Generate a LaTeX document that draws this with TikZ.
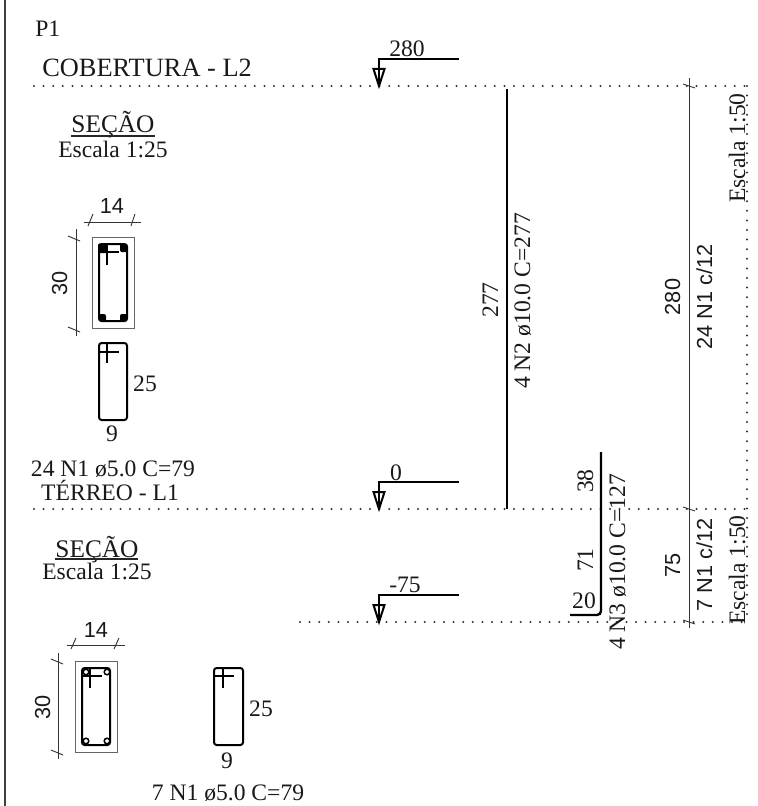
\documentclass[tikz,border=0pt]{standalone}
\usepackage{fontspec}
\setmainfont{Liberation Serif}
\setsansfont{Liberation Sans}
\tikzset{
  serif/.style={inner sep=0,anchor=base,font=\fontsize{17.7pt}{17.7pt}\selectfont,text=black!90},
  sans/.style={inner sep=0,anchor=base,font=\sffamily\fontsize{16.3pt}{16.3pt}\selectfont,text=black!90},
  up/.style={rotate=90},
  dotline/.style={line width=1.7pt,line cap=round,dash pattern=on 0pt off 7.2pt,black!80},
  dimline/.style={line width=0.7pt,black!80},
  rebar/.style={line width=2.1pt,black},
  stirrup/.style={line width=1.5pt,black,rounded corners=2pt},
  hook/.style={line width=1.3pt,black},
  cover/.style={line width=0.7pt,black!60},
  levelline/.style={line width=1.6pt,black},
  bartip/.style={line width=1.5pt,black},
  underl/.style={line width=1.7pt,black!85}
}
\usetikzlibrary{calc}
\newcommand{\levelmark}[3]{%
  \coordinate (#1a) at (459,#2);
  \coordinate (#1b) at (379,#2);
  \coordinate (#1c) at (379,#3);
  \draw[levelline] (#1a) -- (#1b) -- (#1c);
  \draw[bartip] ($(#1c)+(-5.5,-17)$) -- ($(#1c)+(5.5,-17)$) -- (#1c) -- cycle;
}
\begin{document}
\begin{tikzpicture}[x=0.75pt,y=-0.75pt]
\useasboundingbox (0,0) rectangle (757,806);
% sheet edge
\coordinate (edgeT) at (5,0); \coordinate (edgeB) at (5,806);
\draw[line width=1pt,black!75] (edgeT) -- (edgeB);
% level lines
\coordinate (l2a) at (34,86);  \coordinate (l2b) at (747,86);
\coordinate (l1a) at (34,509); \coordinate (l1b) at (747,509);
\coordinate (l0a) at (300,622);\coordinate (l0b) at (747,622);
\draw[dotline] (l2a) -- (l2b);
\draw[dotline] (l1a) -- (l1b);
\draw[dotline] (l0a) -- (l0b);
\draw[dotline] (l2b) -- (l0b);
% level marks
\levelmark{m2}{59}{86}
\levelmark{m1}{482}{509}
\levelmark{m0}{595}{622}
\node[serif] (t280) at (407,57) {280};
\node[serif] (t0) at (396,480) {0};
\node[serif] (t75) at (405,592) {-75};
% texts left
\node[serif,anchor=base west] (p1) at (35,37) {P1};
\node[serif,anchor=base west,font=\fontsize{19.8pt}{19.8pt}\selectfont] (cob) at (42,77) {COBERTURA - L2};
\node[serif] (ter) at (110,500) {TÉRREO - L1};
\node[serif,font=\fontsize{19pt}{19pt}\selectfont] (sec1) at (113,133) {SEÇÃO};
\coordinate (u1a) at (71,136); \coordinate (u1b) at (155,136);
\draw[underl] (u1a) -- (u1b);
\node[serif] (esc1) at (113,157) {Escala 1:25};
\node[serif,font=\fontsize{19pt}{19pt}\selectfont] (sec2) at (97,557) {SEÇÃO};
\coordinate (u2a) at (55,559); \coordinate (u2b) at (138,559);
\draw[underl] (u2a) -- (u2b);
\node[serif] (esc2) at (97,579) {Escala 1:25};
% upper section
\draw[cover] (92,237) rectangle (134,328);
\draw[stirrup] (99,244) rectangle (127,321);
\fill[rounded corners=1pt] (98,243.5) rectangle (107,253);
\fill[rounded corners=1pt] (120,244) rectangle (127.5,252);
\fill[rounded corners=1.5pt] (98.5,314) rectangle (106,321.5);
\fill[rounded corners=1.5pt] (120,314) rectangle (127.5,321.5);
\draw[hook] (107,244) -- (107,265);
\draw[hook] (99,252) -- (119,252);
% dims upper
\coordinate (d1a) at (84,222); \coordinate (d1b) at (141,222);
\draw[dimline] (d1a) -- (d1b);
\draw[dimline] (88,226) -- (93,214);
\draw[dimline] (131,226) -- (135,214);
\node[sans] (n14a) at (112,213) {14};
\coordinate (d2a) at (76,229); \coordinate (d2b) at (76,336);
\draw[dimline] (d2a) -- (d2b);
\draw[dimline] (68,236) -- (80,241);
\draw[dimline] (68,327) -- (80,332);
\node[sans,up] (n30a) at (67,283) {30};
% upper bar
\draw[stirrup] (99,343) rectangle (127,420);
\draw[hook] (107,343) -- (107,363);
\draw[hook] (99,352) -- (119,352);
\node[serif] (n25a) at (145,391) {25};
\node[serif] (n9a) at (112,441) {9};
\node[serif] (c1) at (113,476) {24 N1 ø5.0 C=79};
% lower section
\draw[cover] (75,661) rectangle (117,752);
\draw[stirrup] (82,668) rectangle (110,745);
\foreach \px/\py in {86/672,107/672,86/741,107/741}
  \draw[line width=1.1pt] (\px,\py) circle (2.8);
\draw[hook] (90,668) -- (90,688);
\draw[hook] (82,676) -- (102,676);
\coordinate (d3a) at (67,645); \coordinate (d3b) at (125,645);
\draw[dimline] (d3a) -- (d3b);
\draw[dimline] (71,649) -- (76,638);
\draw[dimline] (114,649) -- (119,638);
\node[sans] (n14b) at (96,637) {14};
\coordinate (d4a) at (58,653); \coordinate (d4b) at (58,759);
\draw[dimline] (d4a) -- (d4b);
\draw[dimline] (51,659) -- (63,664);
\draw[dimline] (51,750) -- (63,755);
\node[sans,up] (n30b) at (50,707) {30};
% lower bar
\draw[stirrup] (214,668) rectangle (243,745);
\draw[hook] (223,668) -- (223,688);
\draw[hook] (214,676) -- (234,676);
\node[serif] (n25b) at (261,716) {25};
\node[serif] (n9b) at (227,768) {9};
\node[serif] (c2) at (228,800) {7 N1 ø5.0 C=79};
% N2
\coordinate (n2a) at (507,89); \coordinate (n2b) at (507,509);
\draw[rebar] (n2a) -- (n2b);
\node[serif,up] (t277) at (498,300) {277};
\node[serif,up] (tn2) at (530,301) {4 N2 ø10.0 C=277};
% N3
\coordinate (n3a) at (601,452); \coordinate (n3c) at (601,615); \coordinate (n3b) at (570,615);
\draw[rebar,line width=1.8pt,rounded corners=3pt] (n3a) -- (n3c) -- (n3b);
\node[serif,up] (t38) at (593,481) {38};
\node[serif,up] (t71) at (593,560) {71};
\node[serif] (t20) at (584,608) {20};
\node[serif,up] (tn3) at (625,562) {4 N3 ø10.0 C=127};
% dimension line
\coordinate (daa) at (689,78); \coordinate (dab) at (689,628);
\draw[dimline] (daa) -- (dab);
\draw[dimline] (683,84) -- (695,88);
\draw[dimline] (683,507) -- (695,511);
\draw[dimline] (683,620) -- (695,624);
\node[sans,up] (t280b) at (680,297) {280};
\node[sans,up] (tn1a) at (712,297) {24 N1 c/12};
\node[sans,up] (t75b) at (680,565) {75};
\node[sans,up] (tn1b) at (712,565) {7 N1 c/12};
\node[serif,up] (esa) at (745,148) {Escala 1:50};
\node[serif,up] (esb) at (745,570) {Escala 1:50};
\end{tikzpicture}
\end{document}
